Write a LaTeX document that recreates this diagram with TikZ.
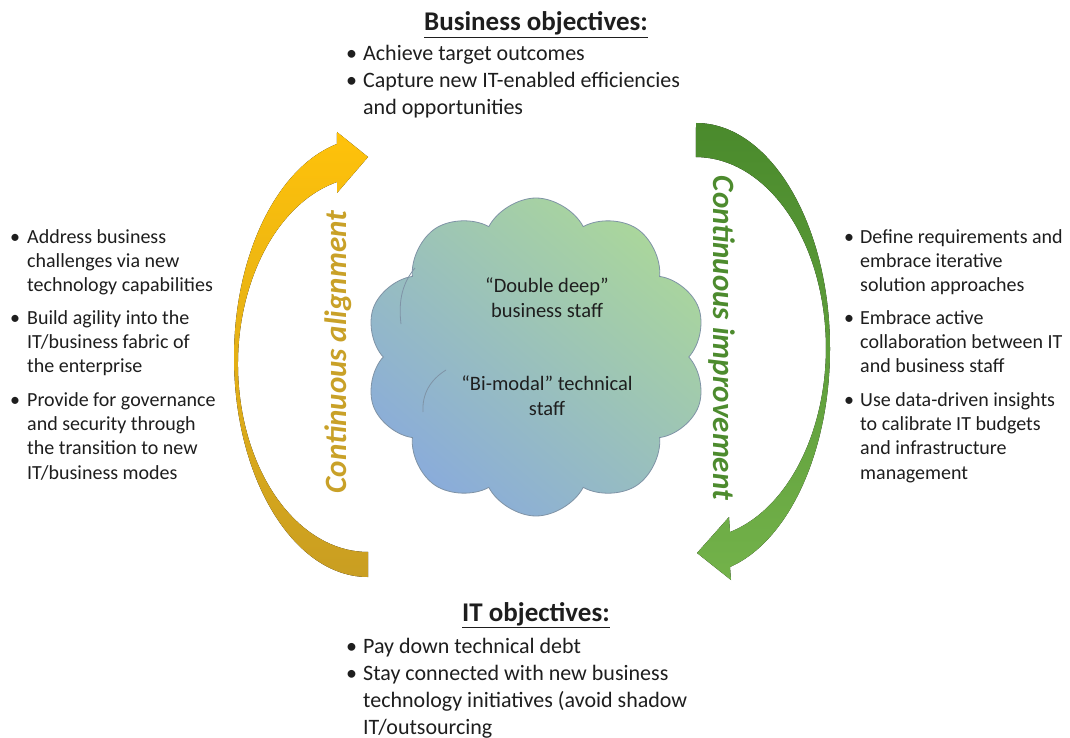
\documentclass[tikz,border=0pt]{standalone}
\usepackage{fontspec}
\setmainfont{Carlito}
\usetikzlibrary{shapes.symbols}
\definecolor{txt}{HTML}{1E1E1E}
\definecolor{ytop}{HTML}{FFC20A}
\definecolor{ybot}{HTML}{C99E22}
\definecolor{ytext}{HTML}{C9A128}
\definecolor{gtop}{HTML}{4A8A2C}
\definecolor{gbot}{HTML}{73B24A}
\definecolor{gtext}{HTML}{4D8B2E}
\definecolor{cgreen}{HTML}{AAD69C}
\definecolor{cblue}{HTML}{8AACDA}
\definecolor{cline}{HTML}{7F93A6}
\newcommand\blist[2]{\parbox[t]{480pt}{\rightskip=0pt plus 1fil\hangindent=#1\hangafter=1\noindent\makebox[#1][l]{\textbullet}#2}}
\tikzset{
  side/.style={anchor=base west, inner sep=0pt, text=txt, font=\fontsize{20}{24.4}\selectfont},
  mid/.style={anchor=base west, inner sep=0pt, text=txt, font=\fontsize{22}{27}\selectfont},
  ttl/.style={anchor=base, inner sep=0pt, text=txt, font=\bfseries\fontsize{27}{32}\selectfont},
  ctext/.style={anchor=base, inner sep=0pt, text=txt, align=center, font=\fontsize{20.5}{25}\selectfont},
  rot/.style={inner sep=0pt, font=\bfseries\itshape\fontsize{31}{36}\selectfont},
  inner/.style={draw=cline, line width=0.8pt},
}
\begin{document}
\begin{tikzpicture}[x=1pt,y=-1pt]
\useasboundingbox (0,0) rectangle (1070,738);
\fill[white] (0,0) rectangle (1070,738);
% left yellow arrow
\fill[top color=ytop, bottom color=ybot]
  (368,577) arc[start angle=90, end angle=256.6, x radius=134, y radius=219.5]
  -- (337,132) -- (368,157) -- (337,193) -- (337,182)
  arc[start angle=256.2, end angle=90, x radius=130, y radius=187.7] -- cycle;
% right green arrow
\fill[top color=gtop, bottom color=gbot]
  (696,123) arc[start angle=270, end angle=435.3, x radius=134, y radius=225.7]
  -- (731,580) -- (697,553) -- (729,517) -- (730,532)
  arc[start angle=434.8, end angle=270, x radius=130, y radius=190.8] -- cycle;
% cloud
\node[cloud, cloud puffs=10, cloud puff arc=125, shape border rotate=8, draw=cline, line width=0.8pt,
      top color=cgreen, bottom color=cblue, shading angle=-40,
      minimum width=342pt, minimum height=318pt, inner sep=0pt] (cloud) at (536,357) {};
\draw[inner] (401,324) .. controls (398,300) and (403,282) .. (415,268);
\draw[inner] (423,412) .. controls (422,394) and (430,380) .. (446,370);
% cloud texts
\node[ctext] (dd) at (547,317) {“Double deep”\\business staff};
\node[ctext] (bm) at (547,415) {“Bi-modal” technical\\staff};
% rotated labels
\node[rot, text=ytext, rotate=90] (ca) at (338,352) {Continuous alignment};
\node[rot, text=gtext, rotate=-90] (ci) at (722,338) {Continuous improvement};
% top
\node[ttl] (bo) at (536,31) {\underline{Business objectives:}};
\node[mid] (t1) at (346,61) {\blist{17pt}{Achieve target outcomes}};
\node[mid] (t2) at (346,88) {\blist{17pt}{Capture new IT-enabled efficiencies\newline and opportunities}};
% bottom
\node[ttl] (io) at (536,621) {\underline{IT objectives:}};
\node[mid] (b1) at (346,653) {\blist{17pt}{Pay down technical debt}};
\node[mid] (b2) at (346,680) {\blist{17pt}{Stay connected with new business\newline technology initiatives (avoid shadow\newline IT/outsourcing}};
% left
\node[side] (l1) at (10,243) {\blist{17pt}{Address business\newline challenges via new\newline technology capabilities}};
\node[side] (l2) at (10,324) {\blist{17pt}{Build agility into the\newline IT/business fabric of\newline the enterprise}};
\node[side] (l3) at (10,406) {\blist{17pt}{Provide for governance\newline and security through\newline the transition to new\newline IT/business modes}};
% right
\node[side] (r1) at (844,243) {\blist{16pt}{Define requirements and\newline embrace iterative\newline solution approaches}};
\node[side] (r2) at (844,324) {\blist{16pt}{Embrace active\newline collaboration between IT\newline and business staff}};
\node[side] (r3) at (844,406) {\blist{16pt}{Use data-driven insights\newline to calibrate IT budgets\newline and infrastructure\newline management}};
\end{tikzpicture}
\end{document}
